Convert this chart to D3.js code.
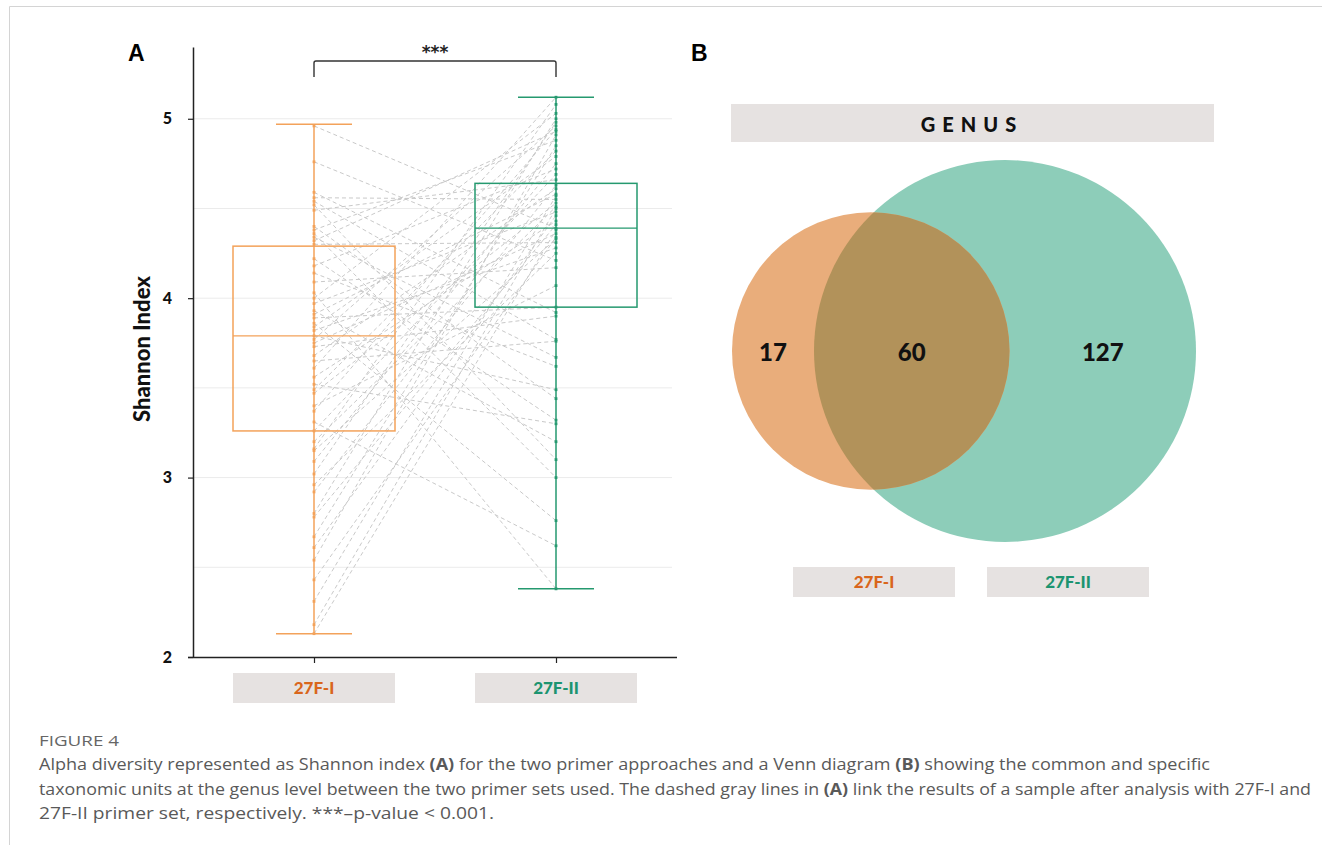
<!DOCTYPE html>
<html>
<head>
<meta charset="utf-8">
<script src="https://cdn.jsdelivr.net/npm/d3@7"></script>
<style>
  body { margin: 0; background: #fff; }
  svg { display: block; }
</style>
</head>
<body>
<div id="fig"></div>
<script>
// ---- data ----
const groups = ["27F-I", "27F-II"];

// paired Shannon index per sample (27F-I, 27F-II)
const shannonI = [4.96, 4.76, 4.59, 4.56, 4.54, 4.52, 4.49, 4.40, 4.38, 4.36,
                  4.34, 4.32, 4.30, 4.22, 4.18, 4.14, 4.09, 4.03, 4.00, 3.97,
                  3.93, 3.91, 3.89, 3.86, 3.84, 3.82, 3.79, 3.77, 3.75, 3.73,
                  3.68, 3.65, 3.61, 3.56, 3.52, 3.49, 3.47, 3.40, 3.37, 3.31,
                  3.26, 3.20, 3.16, 3.15, 3.09, 3.02, 2.96, 2.92, 2.80, 2.78,
                  2.67, 2.61, 2.54, 2.43, 2.31, 2.18, 2.13];
const shannonII = [4.39, 4.21, 3.92, 4.55, 3.77, 3.10, 4.66, 3.44, 4.88, 3.00,
                   3.67, 4.93, 4.31, 3.32, 4.72, 3.62, 4.17, 2.38, 5.03, 4.48,
                   3.20, 4.58, 3.95, 2.76, 4.79, 4.28, 3.49, 4.96, 4.36, 3.90,
                   4.61, 3.76, 5.12, 4.43, 3.30, 4.82, 4.53, 4.07, 4.94, 2.62,
                   4.69, 4.51, 5.08, 4.33, 4.75, 4.98, 4.25, 4.63, 5.00, 4.41,
                   4.85, 4.46, 4.91, 4.34, 4.57, 4.50, 4.38];

// box summary as drawn
const boxMin = [2.13, 2.38];
const boxQ1 = [3.26, 3.95];
const boxMedian = [3.79, 4.39];
const boxQ3 = [4.29, 4.64];
const boxMax = [4.97, 5.12];

const yTicks = [2, 3, 4, 5];
const gridValues = [2.5, 3, 3.5, 4, 4.5, 5];

// venn (genus level)
const vennSets = ["27F-I", "27F-II"];
const vennSetSizes = [77, 187];
const vennRegions = [17, 60, 127]; // only I, both, only II

const strokeCol = ["#f3a25a", "#25996f"];
const textCol = ["#d9661c", "#1c9470"];

const width = 1322, height = 845;

let svg = d3.select("#fig")
    .append("svg")
    .attr("width", width)
    .attr("height", height)
    .style("font-family", "Lato, 'Open Sans', sans-serif");

// page frame
svg.append("path")
    .attr("d", `M9.5,${height} V6.5 H${width}`)
    .attr("fill", "none")
    .attr("stroke", "#d4d4d4");

// ---------------- panel A ----------------
let x = d3.scalePoint()
    .domain(groups)
    .range([193, 677])
    .padding(0.5);

let y = d3.scaleLinear()
    .domain([2, 5.4])
    .range([657, 47]);

let gA = svg.append("g");

gA.selectAll(".grid")
    .data(gridValues)
    .enter()
    .append("line")
    .attr("x1", 193)
    .attr("x2", 672)
    .attr("y1", d => y(d))
    .attr("y2", d => y(d))
    .attr("stroke", "#ebebeb")
    .attr("stroke-width", 1);

// paired dashed lines
let pairs = shannonI.map((v, i) => [v, shannonII[i]]);
gA.selectAll(".pair")
    .data(pairs)
    .enter()
    .append("line")
    .attr("x1", x(groups[0]))
    .attr("x2", x(groups[1]))
    .attr("y1", d => y(d[0]))
    .attr("y2", d => y(d[1]))
    .attr("stroke", "#c9c9c9")
    .attr("stroke-width", 1)
    .attr("stroke-dasharray", "4,3");

// boxes
groups.forEach(function(g, i) {
    let cx = x(g);
    let col = strokeCol[i];
    gA.append("line")
        .attr("x1", cx).attr("x2", cx)
        .attr("y1", y(boxMin[i])).attr("y2", y(boxMax[i]))
        .attr("stroke", col).attr("stroke-width", 1.5);
    [boxMin[i], boxMax[i]].forEach(function(v) {
        gA.append("line")
            .attr("x1", cx - 38).attr("x2", cx + 38)
            .attr("y1", y(v)).attr("y2", y(v))
            .attr("stroke", col).attr("stroke-width", 1.5);
    });
    gA.append("rect")
        .attr("x", cx - 81)
        .attr("width", 162)
        .attr("y", y(boxQ3[i]))
        .attr("height", y(boxQ1[i]) - y(boxQ3[i]))
        .attr("fill", "none")
        .attr("stroke", col)
        .attr("stroke-width", 1.5);
    gA.append("line")
        .attr("x1", cx - 81).attr("x2", cx + 81)
        .attr("y1", y(boxMedian[i])).attr("y2", y(boxMedian[i]))
        .attr("stroke", col).attr("stroke-width", 1.2);
});

// points
[shannonI, shannonII].forEach(function(vals, i) {
    gA.selectAll(".pt" + i)
        .data(vals)
        .enter()
        .append("rect")
        .attr("x", x(groups[i]) - 1.4)
        .attr("y", d => y(d) - 1.4)
        .attr("width", 2.8)
        .attr("height", 2.8)
        .attr("fill", strokeCol[i]);
});

// axes
let yAxis = gA.append("g")
    .attr("transform", "translate(193,0)")
    .call(d3.axisLeft(y).tickValues(yTicks).tickSize(5).tickSizeOuter(0).tickFormat(d3.format("d")));
yAxis.select(".domain").attr("stroke", "#222").attr("stroke-width", 1.5);
yAxis.selectAll(".tick line").attr("stroke", "#222").attr("stroke-width", 1.2);
yAxis.selectAll(".tick text")
    .attr("x", -21)
    .style("font-family", "Lato, sans-serif")
    .style("font-weight", "900")
    .style("font-size", "16px")
    .attr("fill", "#111");

let xAxis = gA.append("g")
    .attr("transform", "translate(0,657)")
    .call(d3.axisBottom(x).tickSize(6).tickSizeOuter(0).tickFormat(""));
xAxis.select(".domain").attr("stroke", "#222").attr("stroke-width", 1.5)
    .attr("d", "M188,0.5H677");
xAxis.selectAll(".tick line").attr("stroke", "#222").attr("stroke-width", 1.2);

// category label boxes
groups.forEach(function(g, i) {
    gA.append("rect")
        .attr("x", x(g) - 81)
        .attr("y", 673)
        .attr("width", 162)
        .attr("height", 30)
        .attr("fill", "#e6e2e1");
    gA.append("text")
        .attr("x", x(g))
        .attr("y", 694)
        .attr("text-anchor", "middle")
        .style("font-weight", "900")
        .style("font-size", "17px")
        .attr("fill", textCol[i])
        .text(g);
});

gA.append("text")
    .attr("transform", "translate(150,349)rotate(-90)")
    .attr("text-anchor", "middle")
    .style("font-weight", "900")
    .style("font-size", "22px")
    .attr("fill", "#111")
    .text("Shannon Index");

// significance bracket
gA.append("path")
    .attr("d", `M${x(groups[0])},77 V63 Q${x(groups[0])},61 ${x(groups[0]) + 2},61 H${x(groups[1]) - 2} Q${x(groups[1])},61 ${x(groups[1])},63 V77`)
    .attr("fill", "none")
    .attr("stroke", "#333")
    .attr("stroke-width", 1.4);
gA.append("text")
    .attr("x", (x(groups[0]) + x(groups[1])) / 2)
    .attr("y", 58)
    .attr("text-anchor", "middle")
    .style("font-family", "'DejaVu Sans', sans-serif")
    .style("font-weight", "bold")
    .style("font-size", "17px")
    .attr("fill", "#222")
    .text("***");

svg.append("text")
    .attr("x", 128).attr("y", 61)
    .style("font-family", "'Liberation Sans', Arial, sans-serif")
    .style("font-weight", "bold")
    .style("font-size", "23px")
    .text("A");

// ---------------- panel B ----------------
let gB = svg.append("g");

svg.append("text")
    .attr("x", 691).attr("y", 61)
    .style("font-family", "'Liberation Sans', Arial, sans-serif")
    .style("font-weight", "bold")
    .style("font-size", "23px")
    .text("B");

gB.append("rect")
    .attr("x", 731).attr("y", 104)
    .attr("width", 483).attr("height", 38)
    .attr("fill", "#e6e2e1");
gB.append("text")
    .attr("x", 972).attr("y", 132)
    .attr("text-anchor", "middle")
    .style("font-weight", "900")
    .style("font-size", "20px")
    .style("letter-spacing", "7px")
    .attr("fill", "#111")
    .text("GENUS");

let rScale = d3.scalePow()
    .exponent(0.36)
    .domain([0, d3.max(vennSetSizes)])
    .range([0, 191]);

let rI = rScale(vennSetSizes[0]);
let rII = rScale(vennSetSizes[1]);
let vennLeft = 732, vennRight = 1196, vennCy = 351;
let cxI = vennLeft + rI;
let cxII = vennRight - rII;

let defs = svg.append("defs");
defs.append("clipPath").attr("id", "clipI")
    .append("circle").attr("cx", cxI).attr("cy", vennCy).attr("r", rI);

gB.append("circle")
    .attr("cx", cxII).attr("cy", vennCy).attr("r", rII)
    .attr("fill", "#8dcdb9");
gB.append("circle")
    .attr("cx", cxI).attr("cy", vennCy).attr("r", rI)
    .attr("fill", "#e9ad7b");
gB.append("circle")
    .attr("cx", cxII).attr("cy", vennCy).attr("r", rII)
    .attr("clip-path", "url(#clipI)")
    .attr("fill", "#b2925a");

let regionX = [
    (vennLeft + (cxII - rII)) / 2,
    ((cxII - rII) + (cxI + rI)) / 2,
    ((cxI + rI) + vennRight) / 2
];
gB.selectAll(".vlab")
    .data(vennRegions)
    .enter()
    .append("text")
    .attr("x", (d, i) => regionX[i])
    .attr("y", vennCy + 10)
    .attr("text-anchor", "middle")
    .style("font-weight", "900")
    .style("font-size", "24px")
    .attr("fill", "#111")
    .text(d => d);

let vennLabX = [874, 1068];
vennSets.forEach(function(s, i) {
    gB.append("rect")
        .attr("x", vennLabX[i] - 81).attr("y", 567)
        .attr("width", 162).attr("height", 30)
        .attr("fill", "#e6e2e1");
    gB.append("text")
        .attr("x", vennLabX[i]).attr("y", 588)
        .attr("text-anchor", "middle")
        .style("font-weight", "900")
        .style("font-size", "17px")
        .attr("fill", textCol[i])
        .text(s);
});

// ---------------- caption ----------------
let cap = svg.append("g")
    .style("font-family", "'Open Sans', sans-serif")
    .attr("fill", "#595959");

cap.append("text")
    .attr("x", 39).attr("y", 746)
    .style("font-size", "15px")
    .attr("fill", "#666")
    .attr("textLength", 80)
    .attr("lengthAdjust", "spacingAndGlyphs")
    .text("FIGURE 4");

let captionLines = [
    [["Alpha diversity represented as Shannon index ", 0], ["(A)", 1], [" for the two primer approaches and a Venn diagram ", 0], ["(B)", 1], [" showing the common and specific", 0]],
    [["taxonomic units at the genus level between the two primer sets used. The dashed gray lines in ", 0], ["(A)", 1], [" link the results of a sample after analysis with 27F-I and", 0]],
    [["27F-II primer set, respectively. ***\u2013p-value < 0.001.", 0]]
];
let captionWidths = [1171, 1272, 455];

captionLines.forEach(function(parts, i) {
    let t = cap.append("text")
        .attr("x", 39)
        .attr("y", 770 + i * 24.5)
        .style("font-size", "15.5px")
        .attr("textLength", captionWidths[i])
        .attr("lengthAdjust", "spacingAndGlyphs");
    parts.forEach(function(p) {
        t.append("tspan")
            .style("font-weight", p[1] ? "bold" : "normal")
            .text(p[0]);
    });
});
</script>
</body>
</html>
